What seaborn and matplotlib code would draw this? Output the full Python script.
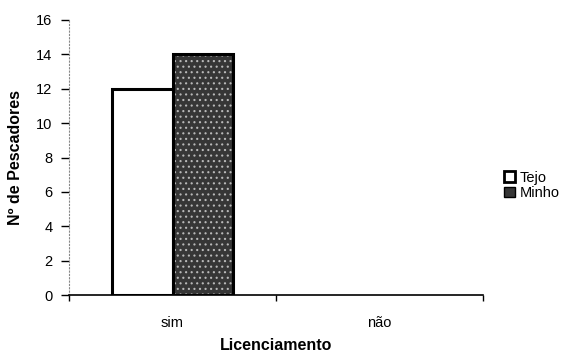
import matplotlib
matplotlib.use("Agg")
import matplotlib.pyplot as plt
from matplotlib.ticker import FixedLocator
import seaborn as sns
import pandas as pd

categories = ["sim", "não"]
series_names = ["Tejo", "Minho"]
tejo_values = [12, 0]
minho_values = [14, 0]
y_ticks = [0, 2, 4, 6, 8, 10, 12, 14, 16]

df = pd.DataFrame({
    "Licenciamento": categories * 2,
    "Rio": [series_names[0]] * len(categories) + [series_names[1]] * len(categories),
    "Pescadores": tejo_values + minho_values,
})

sns.set_theme(style="white")
plt.rcParams["font.family"] = ["Liberation Sans", "DejaVu Sans"]
plt.rcParams.update({
    "text.color": "black",
    "axes.labelcolor": "black",
    "xtick.color": "black",
    "ytick.color": "black",
})

fig = plt.figure(figsize=(5.65, 3.52), dpi=100)
ax = fig.add_axes([0.1221, 0.1619, 0.7329, 0.7813])

palette = {"Tejo": "#ffffff", "Minho": "#363636"}
sns.barplot(data=df, x="Licenciamento", y="Pescadores", hue="Rio",
            palette=palette, width=0.58, edgecolor="black", linewidth=2.2,
            saturation=1, ax=ax, legend=False)

for patch in ax.patches:
    # empty bars leave only the baseline
    if patch.get_height() == 0:
        patch.set_linewidth(0)
    # speckled fill for the Minho series
    if patch.get_facecolor()[0] < 0.5:
        patch.set_hatch("...")
        patch.set_hatch_linewidth(0.8)
        patch._hatch_color = (0.72, 0.72, 0.72, 1.0)

ax.set_xlim(-0.5, 1.5)
ax.set_ylim(0, 16)
ax.set_yticks(y_ticks)
ax.set_yticklabels([str(v) for v in y_ticks], fontsize=10.5)

for side in ("top", "right"):
    ax.spines[side].set_visible(False)
ax.spines["left"].set_linestyle((0, (1, 2)))
ax.spines["left"].set_color("#888888")
ax.spines["left"].set_linewidth(0.8)
ax.spines["bottom"].set_color("black")
ax.spines["bottom"].set_linewidth(1.2)

ax.tick_params(axis="y", which="major", direction="out", length=6, width=1,
               color="black", labelcolor="black", pad=6, left=True)
ax.xaxis.set_minor_locator(FixedLocator([-0.5, 0.5, 1.5]))
ax.tick_params(axis="x", which="minor", direction="out", length=4, width=1,
               color="black", bottom=True)
ax.tick_params(axis="x", which="major", length=0, pad=15, labelsize=10.5,
               labelcolor="black")

ax.set_xlabel("Licenciamento", fontsize=11.5, fontweight="bold", labelpad=6,
              color="black")
ax.set_ylabel("Nº de Pescadores", fontsize=11.5, fontweight="bold", labelpad=9,
              color="black")

handles = [
    plt.Rectangle((0, 0), 1, 1, facecolor="#ffffff", edgecolor="black", linewidth=2),
    plt.Rectangle((0, 0), 1, 1, facecolor="#363636", edgecolor="black", linewidth=1),
]
fig.legend(handles, series_names, loc="center left", bbox_to_anchor=(0.892, 0.473),
           frameon=False, fontsize=10.5, handlelength=0.75, handleheight=0.75,
           handletextpad=0.3, labelspacing=0.1, borderpad=0, borderaxespad=0,
           labelcolor="black")

fig.savefig("out.png", dpi=100, facecolor="white")
